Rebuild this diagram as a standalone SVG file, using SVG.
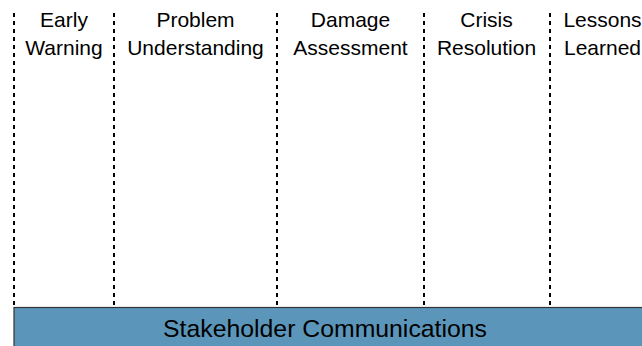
<svg xmlns="http://www.w3.org/2000/svg" width="642" height="346" viewBox="0 0 642 346">
<style>
.sep{stroke:#000;stroke-width:2;stroke-dasharray:4,4;fill:none}
.hd{font-family:"Liberation Sans",Arial,sans-serif;font-size:21px;fill:#000;text-anchor:middle}
.bar{fill:#5b96ba;stroke:#333;stroke-width:1.2}
.bt{font-family:"Liberation Sans",Arial,sans-serif;font-size:24.8px;fill:#000;text-anchor:middle}
</style>
<rect width="642" height="346" fill="#fff"/>
<g id="connectors">
<line class="sep" x1="14" y1="13" x2="14" y2="307"/>
<line class="sep" x1="114" y1="13" x2="114" y2="307"/>
<line class="sep" x1="277" y1="13" x2="277" y2="307"/>
<line class="sep" x1="424" y1="13" x2="424" y2="307"/>
<line class="sep" x1="550" y1="13" x2="550" y2="307"/>
</g>
<g id="early-warning"><text class="hd" x="64" y="27.3">Early</text><text class="hd" x="64" y="55">Warning</text></g>
<g id="problem-understanding"><text class="hd" x="195.5" y="27.3">Problem</text><text class="hd" x="195.5" y="55">Understanding</text></g>
<g id="damage-assessment"><text class="hd" x="350.5" y="27.3">Damage</text><text class="hd" x="350.5" y="55">Assessment</text></g>
<g id="crisis-resolution"><text class="hd" x="486.5" y="27.3">Crisis</text><text class="hd" x="486.5" y="55">Resolution</text></g>
<g id="lessons-learned"><text class="hd" x="602.5" y="27.3">Lessons</text><text class="hd" x="602.5" y="55">Learned</text></g>
<g id="stakeholder-communications"><rect class="bar" x="14" y="307.5" width="640" height="50"/><text class="bt" x="325" y="337.3">Stakeholder Communications</text></g>
</svg>
